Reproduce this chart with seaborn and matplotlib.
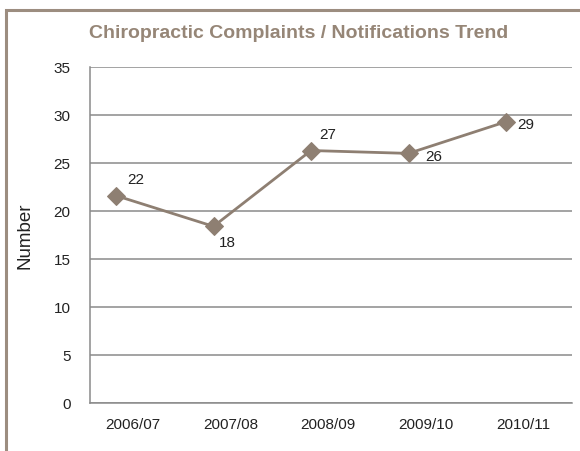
import matplotlib
matplotlib.use("Agg")
import matplotlib.pyplot as plt
import seaborn as sns
import numpy as np
import pandas as pd
from matplotlib.patches import Rectangle

# ---- data ----
seasons = ["2006/07", "2007/08", "2008/09", "2009/10", "2010/11"]
complaints = [21.6, 18.4, 26.3, 26.0, 29.3]
point_labels = ["22", "18", "27", "26", "29"]
y_ticks = [0, 5, 10, 15, 20, 25, 30, 35]

sns.set_theme(style="white")
plt.rcParams["font.family"] = ["Liberation Sans", "DejaVu Sans"]

W, H = 580, 452
fig = plt.figure(figsize=(W / 100, H / 100), dpi=100)
ax = fig.add_axes([90 / W, 1 - 404 / H, (572 - 90) / W, (404 - 68) / H])

df = pd.DataFrame({"pos": np.arange(len(seasons)), "value": complaints})
line_col = "#8E7F72"
sns.lineplot(data=df, x="pos", y="value", ax=ax, color=line_col, linewidth=2,
             marker="D", markersize=9, markeredgecolor=line_col, zorder=3)

# label offsets (points) for each data label
offsets = [(14, 7), (10, -6), (12, 7), (18, -2), (14, -2)]
vas = ["bottom", "top", "bottom", "center", "center"]
for i, (v, lab) in enumerate(zip(complaints, point_labels)):
    ax.annotate(lab, (i, v), xytext=offsets[i], textcoords="offset points",
                ha="center", va=vas[i], fontsize=11, color="#222222")

ax.set_ylim(0, 35)
ax.set_yticks(y_ticks)
ax.set_xlim(-26 / 97.5, 4 + 66 / 97.5)
ax.set_xticks(np.arange(len(seasons)) + 0.175)
ax.set_xticklabels(seasons)
ax.tick_params(axis="both", length=0, labelsize=11, colors="#222222")
ax.tick_params(axis="x", pad=10)
ax.tick_params(axis="y", pad=14)
ax.grid(axis="y", color="#8a8a8a", linewidth=1.1)
ax.set_axisbelow(True)
for s in ["top", "right"]:
    ax.spines[s].set_visible(False)
for s in ["left", "bottom"]:
    ax.spines[s].set_color("#8a8a8a")
    ax.spines[s].set_linewidth(1.1)

ax.set_xlabel("")
ax.set_ylabel("")
fig.text(25 / W, 1 - 236 / H, "Number", rotation=90, ha="center", va="center",
         fontsize=13.5, color="#222222")

fig.text(299 / W, 1 - 33 / H, "Chiropractic Complaints / Notifications Trend",
         ha="center", va="center", fontsize=14, fontweight="bold", color="#968677")

fig.patches.append(Rectangle((6 / W, -0.05), 1.2, 1 - 11 / H + 0.05,
                             transform=fig.transFigure, fill=False,
                             edgecolor="#9C8D80", linewidth=2.2))

fig.savefig("out.png", dpi=100)
